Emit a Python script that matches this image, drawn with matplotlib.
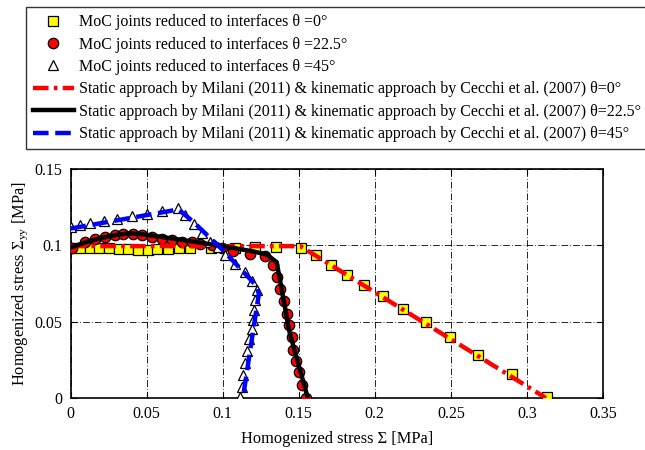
import matplotlib
matplotlib.use("Agg")
import matplotlib.pyplot as plt
from matplotlib.ticker import FuncFormatter

plt.rcParams['font.family'] = ['Liberation Serif', 'DejaVu Serif']
plt.rcParams['mathtext.fontset'] = 'custom'
plt.rcParams['mathtext.rm'] = 'Liberation Serif'
plt.rcParams['mathtext.it'] = 'Liberation Serif:italic'

# ---- data ----
sq_x = [0.0, 0.0065, 0.013, 0.019, 0.0255, 0.032, 0.038, 0.0445, 0.051, 0.057, 0.064, 0.071,
        0.0785, 0.0925, 0.108, 0.121, 0.135, 0.1514, 0.1613, 0.1712, 0.1819, 0.1926, 0.2051,
        0.2187, 0.2334, 0.2493, 0.2679, 0.2899, 0.3135]
sq_y = [0.0985, 0.0985, 0.098, 0.098, 0.098, 0.0975, 0.0975, 0.097, 0.097, 0.0975, 0.0975, 0.098,
        0.098, 0.098, 0.098, 0.099, 0.099, 0.0985, 0.0935, 0.0874, 0.0808, 0.0741, 0.0669,
        0.0586, 0.0495, 0.0399, 0.0283, 0.0157, 0.0004]

ci_x = [0.0008, 0.0095, 0.016, 0.0227, 0.0292, 0.0347, 0.0413, 0.0468, 0.0533, 0.0599, 0.0665,
        0.073, 0.0796, 0.085, 0.0928, 0.0993, 0.107, 0.118, 0.1278, 0.1333, 0.136, 0.138, 0.140,
        0.1425, 0.1435, 0.1455, 0.1465, 0.148, 0.150, 0.152, 0.155]
ci_y = [0.0985, 0.1022, 0.1044, 0.1054, 0.1065, 0.1076, 0.1076, 0.1065, 0.1054, 0.1044, 0.1033,
        0.1022, 0.1022, 0.1011, 0.1, 0.0985, 0.0963, 0.0946, 0.0928, 0.087, 0.0795, 0.0715, 0.0635,
        0.055, 0.0475, 0.04, 0.0314, 0.0245, 0.0168, 0.0085, 0.0]

tr_x = [0.0, 0.0064, 0.013, 0.0218, 0.0306, 0.0404, 0.0503, 0.0601, 0.0705, 0.0755, 0.081,
        0.0865, 0.092, 0.097, 0.1015, 0.108, 0.1145, 0.119, 0.1228, 0.1215, 0.1205, 0.12, 0.119,
        0.1175, 0.1162, 0.1147, 0.1136, 0.1125, 0.1114]
tr_y = [0.112, 0.113, 0.1146, 0.1159, 0.1174, 0.119, 0.1203, 0.1222, 0.1244, 0.1196, 0.1142,
        0.108, 0.1025, 0.099, 0.0935, 0.088, 0.0826, 0.0765, 0.071, 0.064, 0.0575, 0.051, 0.0455,
        0.0385, 0.0305, 0.0228, 0.015, 0.0075, 0.0005]

red_x = [0.0, 0.151, 0.3125]
red_y = [0.0995, 0.0995, 0.0]

blk_x = [0.0, 0.01, 0.02, 0.03, 0.038, 0.045, 0.06, 0.08, 0.1, 0.12, 0.129, 0.1355, 0.144, 0.156]
blk_y = [0.0985, 0.102, 0.1048, 0.1068, 0.1078, 0.1075, 0.1055, 0.1025, 0.0995, 0.096, 0.094, 0.089, 0.043, 0.0]

blu_x = [0.0, 0.071, 0.08, 0.1, 0.118, 0.1225, 0.1238, 0.1225, 0.1133]
blu_y = [0.111, 0.1235, 0.116, 0.097, 0.078, 0.073, 0.068, 0.06, 0.0]

x_ticks = [0, 0.05, 0.1, 0.15, 0.2, 0.25, 0.3, 0.35]
y_ticks = [0, 0.05, 0.1, 0.15]

labels = ["MoC joints reduced to interfaces \u03b8 =0\u00b0",
          "MoC joints reduced to interfaces \u03b8 =22.5\u00b0",
          "MoC joints reduced to interfaces \u03b8 =45\u00b0",
          "Static approach by Milani (2011) & kinematic approach by Cecchi et al. (2007) \u03b8=0\u00b0",
          "Static approach by Milani (2011) & kinematic approach by Cecchi et al. (2007) \u03b8=22.5\u00b0",
          "Static approach by Milani (2011) & kinematic approach by Cecchi et al. (2007) \u03b8=45\u00b0"]

fig = plt.figure(figsize=(6.45, 4.5), dpi=100)
ax = fig.add_axes([70.5/645, 1-398/450, (603-70.5)/645, (398-169)/450])

h1, = ax.plot(sq_x, sq_y, 's', ms=7, mfc='#ffff00', mec='black', mew=0.9, ls='none', zorder=3)
h2, = ax.plot(ci_x, ci_y, 'o', ms=7.5, mfc='#ff0000', mec='black', mew=0.9, ls='none', zorder=3)
h3, = ax.plot(tr_x, tr_y, '^', ms=7.5, mfc='white', mec='black', mew=0.9, ls='none', zorder=3)
h4, = ax.plot(red_x, red_y, color='#ff0000', lw=3.2, ls=(0, (3.5, 1.2, 0.8, 1.2)), zorder=4)
h5, = ax.plot(blk_x, blk_y, color='black', lw=3.2, ls='-', zorder=4)
h6, = ax.plot(blu_x, blu_y, color='#0000ff', lw=3.2, ls=(0, (3.5, 1.5)), zorder=4)

ax.set_xlim(0, 0.35)
ax.set_ylim(0, 0.15)
ax.set_xticks(x_ticks)
ax.set_yticks(y_ticks)
fmt = FuncFormatter(lambda v, p: ('%g' % round(v, 4)))
ax.xaxis.set_major_formatter(fmt)
ax.yaxis.set_major_formatter(fmt)
ax.tick_params(direction='in', top=True, right=True, labelsize=11.5, length=4, width=0.8, pad=6)
ax.grid(True, color='black', lw=0.6, ls=(0, (8, 2.5, 1, 2.5)))
for s in ax.spines.values():
    s.set_linewidth(1.2)

ax.set_xlabel('Homogenized stress \u03a3 [MPa]', fontsize=11.8, labelpad=6)
ax.set_ylabel('Homogenized stress \u03a3$_{\\mathrm{yy}}$ [MPa]', fontsize=11.8, labelpad=3)

leg = fig.legend([h1, h2, h3, h4, h5, h6], labels, loc='upper left',
                 bbox_to_anchor=(25.5/645, 1-7/450), bbox_transform=fig.transFigure,
                 fontsize=11.5, frameon=True, fancybox=False, edgecolor='black',
                 handlelength=2.6, handletextpad=0.3, labelspacing=0.4, borderpad=0.45,
                 borderaxespad=0)
leg.get_frame().set_linewidth(1.0)

fig.savefig('out.png', dpi=100)
